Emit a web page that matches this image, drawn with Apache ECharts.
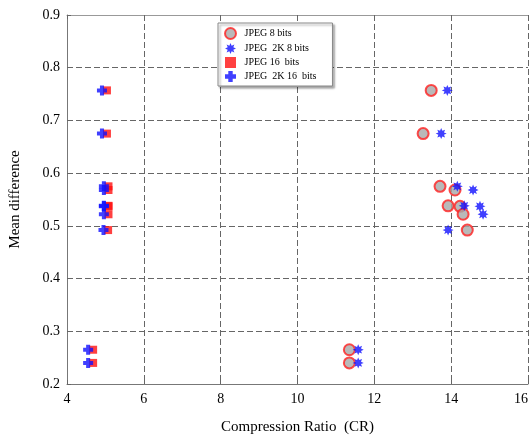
<!DOCTYPE html>
<html>
<head>
<meta charset="utf-8">
<script src="https://cdn.jsdelivr.net/npm/echarts@6/dist/echarts.min.js"></script>
<style>
  html, body { margin: 0; padding: 0; background: #fff; }
  #chart { width: 531px; height: 441px; }
</style>
</head>
<body>
<div id="chart"></div>
<script>
// mean difference values shared by the four codecs (one per image)
var meanDiff = [0.757, 0.675, 0.575, 0.568, 0.538, 0.537, 0.522, 0.492, 0.265, 0.240];

// compression ratio per codec
var crJpeg8 = [13.48, 13.27, 13.71, 14.10, 13.92, 14.23, 14.31, 14.42, 11.35, 11.35];
var crJpeg2k8 = [13.90, 13.74, 14.16, 14.57, 14.34, 14.75, 14.83, 13.92, 11.58, 11.58];
var crJpeg16 = [5.04, 5.04, 5.08, 5.08, 5.08, 5.08, 5.08, 5.07, 4.68, 4.68];
var crJpeg2k16 = [4.91, 4.91, 4.96, 4.96, 4.96, 4.96, 4.96, 4.95, 4.55, 4.55];

var seriesNames = ["JPEG 8 bits", "JPEG  2K 8 bits", "JPEG 16  bits", "JPEG  2K 16  bits"];

function pairs(xs) {
  return xs.map(function (x, i) { return [x, meanDiff[i]]; });
}

// 8 point star used for the "*" marker
function starPath() {
  var pts = [];
  for (var i = 0; i < 16; i++) {
    var a = Math.PI * i / 8;
    var r = i % 2 === 0 ? 10 : 5.5;
    pts.push((10 + r * Math.sin(a)).toFixed(2) + "," + (10 - r * Math.cos(a)).toFixed(2));
  }
  return "path://M" + pts.join("L") + "Z";
}
var plusPath = "path://M3,0H7V3H10V7H7V10H3V7H0V3H3Z";
var squarePath = "path://M0,0H10V10H0Z";

var serif = "Liberation Serif";
var myChart = echarts.init(document.getElementById("chart"));

var axisCommon = {
  axisLine: { show: true, lineStyle: { color: "#777", width: 1 } },
  axisTick: { show: true, inside: true, length: 4, lineStyle: { color: "#666" } }
};

var option = {
  animation: false,
  grid: { left: 66, right: 2, top: 15, bottom: 57 },
  legend: {
    orient: "vertical",
    left: 218,
    top: 23,
    itemGap: 3,
    itemWidth: 18,
    itemHeight: 11,
    padding: [4, 16, 4, 6],
    backgroundColor: "#fff",
    borderColor: "#888",
    borderWidth: 1,
    shadowColor: "rgba(0,0,0,0.35)",
    shadowOffsetX: 2,
    shadowOffsetY: 2,
    shadowBlur: 2,
    textStyle: { fontFamily: serif, fontSize: 10, color: "#000" },
    data: seriesNames
  },
  xAxis: [
    {
      type: "value",
      min: 4,
      max: 16,
      interval: 2,
      name: "Compression Ratio  (CR)",
      nameLocation: "middle",
      nameGap: 36,
      nameTextStyle: { fontFamily: serif, fontSize: 15, color: "#000" },
      axisLine: axisCommon.axisLine,
      axisTick: axisCommon.axisTick,
      axisLabel: { fontFamily: serif, fontSize: 14, color: "#000", margin: 8, alignMaxLabel: "right" },
      splitLine: { show: true, lineStyle: { color: "#666", type: [6, 3], width: 1 } }
    },
    {
      type: "value",
      position: "top",
      min: 4,
      max: 16,
      interval: 2,
      axisLine: { show: true, lineStyle: { color: "#999", width: 1 } },
      axisTick: axisCommon.axisTick,
      axisLabel: { show: false },
      splitLine: { show: false }
    }
  ],
  yAxis: {
    type: "value",
    min: 0.2,
    max: 0.9,
    interval: 0.1,
    name: "Mean difference",
    nameLocation: "middle",
    nameGap: 44,
    nameRotate: 90,
    nameTextStyle: { fontFamily: serif, fontSize: 15, color: "#000" },
    axisLine: axisCommon.axisLine,
    axisTick: axisCommon.axisTick,
    axisLabel: {
      fontFamily: serif, fontSize: 14, color: "#000", margin: 7,
      formatter: function (v) { return v.toFixed(1); }
    },
    splitLine: { show: true, lineStyle: { color: "#666", type: [6, 3], width: 1 } }
  },
  series: [
    {
      name: seriesNames[0],
      type: "scatter",
      data: pairs(crJpeg8),
      symbol: "circle",
      symbolSize: 11,
      itemStyle: { color: "#a8a8a8", borderColor: "#ff2020", borderWidth: 2 }
    },
    {
      name: seriesNames[1],
      type: "scatter",
      data: pairs(crJpeg2k8),
      symbol: starPath(),
      symbolSize: 11,
      itemStyle: { color: "#1010ff" }
    },
    {
      name: seriesNames[2],
      type: "scatter",
      data: pairs(crJpeg16),
      symbol: squarePath,
      symbolSize: 8,
      itemStyle: { color: "#ff1010" }
    },
    {
      name: seriesNames[3],
      type: "scatter",
      data: pairs(crJpeg2k16),
      symbol: plusPath,
      symbolSize: 10,
      itemStyle: { color: "#1010ff" }
    }
  ]
};

option && myChart.setOption(option);
</script>
</body>
</html>
